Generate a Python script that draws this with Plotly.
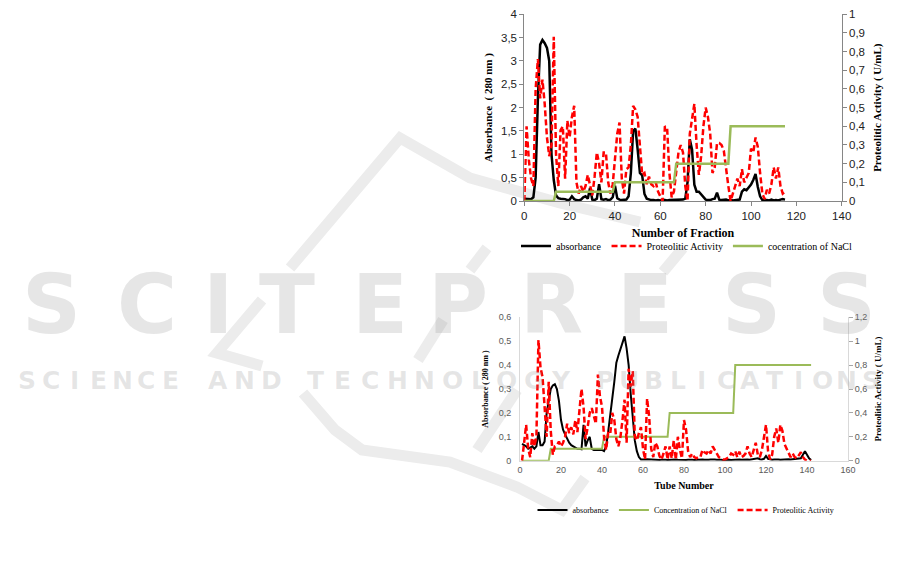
import plotly.graph_objects as go

W, H = 901, 565

# ---------------- Top chart data (Number of Fraction) ----------------
fraction = list(range(0, 116))
absorbance_top = [
    0.05, 0.05, 0.04, 0.04, 0.08, 0.5, 2.2, 3.35, 3.45, 3.38,
    3.28, 3.0, 1.0, 0.45, 0.12, 0.06, 0.05, 0.05, 0.04, 0.02,
    0.03, 0.10, 0.04, 0.02, 0.01, 0.03, 0.08, 0.10, 0.05, 0.28,
    0.03, 0.02, 0.05, 0.36, 0.04, 0.03, 0.04, 0.02, 0.03, 0.08,
    0.33, 0.06, 0.03, 0.02, 0.02, 0.03, 0.10, 0.6, 1.5, 1.55,
    1.1, 0.6, 0.55, 0.15, 0.05, 0.03, 0.02, 0.02, 0.01, 0.02,
    0.01, 0.03, 0.02, 0.01, 0.02, 0.02, 0.02, 0.03, 0.02, 0.02,
    0.03, 0.05, 0.4, 1.32, 1.1, 0.35, 0.2, 0.2, 0.15, 0.08,
    0.03, 0.02, 0.02, 0.04, 0.05, 0.18, 0.03, 0.02, 0.03, 0.03,
    0.01, 0.02, 0.01, 0.02, 0.02, 0.03, 0.2, 0.25, 0.23, 0.3,
    0.35, 0.45, 0.58, 0.3, 0.1, 0.02, 0.01, 0.02, 0.01, 0.03,
    0.01, 0.02, 0.01, 0.03, 0.04, 0.03,
]
activity_top = [
    0.0, 0.40, 0.22, 0.12, 0.08, 0.60, 0.76, 0.55, 0.65, 0.52,
    0.34, 0.24, 0.30, 0.88, 0.25, 0.08, 0.38, 0.40, 0.12, 0.43,
    0.34, 0.45, 0.51, 0.10, 0.04, 0.08, 0.05, 0.08, 0.14, 0.09,
    0.03, 0.13, 0.26, 0.20, 0.10, 0.26, 0.26, 0.10, 0.04, 0.09,
    0.22, 0.36, 0.42, 0.12, 0.04, 0.17, 0.18, 0.30, 0.51, 0.49,
    0.45, 0.28, 0.14, 0.15, 0.09, 0.13, 0.09, 0.08, 0.10, 0.05,
    0.02, 0.0, 0.40, 0.39, 0.15, 0.02, 0.05, 0.15, 0.26, 0.30,
    0.26, 0.08, 0.0, 0.36, 0.45, 0.52, 0.30, 0.14, 0.24, 0.40,
    0.50, 0.45, 0.36, 0.15, 0.18, 0.31, 0.31, 0.30, 0.27, 0.16,
    0.08, 0.0, 0.04, 0.09, 0.12, 0.08, 0.17, 0.10, 0.13, 0.15,
    0.28, 0.26, 0.34, 0.29, 0.15, 0.04, 0.01, 0.06, 0.04, 0.09,
    0.18, 0.12, 0.18, 0.08, 0.04, 0.05,
]
nacl_top_x = [0, 13, 14, 39, 40, 66, 67, 90, 91, 115]
nacl_top_y = [0, 0, 0.05, 0.05, 0.1, 0.1, 0.2, 0.2, 0.4, 0.4]

# ---------------- Bottom chart data (Tube Number) ----------------
tube = list(range(1, 143))
absorbance_bot = [
    0.07, 0.065, 0.06, 0.05, 0.055, 0.06, 0.05, 0.06, 0.12, 0.065,
    0.065, 0.08, 0.20, 0.26, 0.30, 0.315, 0.32, 0.30, 0.25, 0.17,
    0.13, 0.11, 0.09, 0.075, 0.065, 0.06, 0.055, 0.05, 0.05, 0.048,
    0.15, 0.06, 0.085, 0.10, 0.05, 0.045, 0.045, 0.045, 0.045, 0.045,
    0.04, 0.06, 0.12, 0.20, 0.26, 0.33, 0.41, 0.44, 0.47, 0.49,
    0.52, 0.47, 0.40, 0.28, 0.17, 0.085, 0.04, 0.015, 0.005, 0.004,
    0.005, 0.006, 0.005, 0.004, 0.006, 0.005, 0.004, 0.003, 0.004, 0.005,
    0.004, 0.003, 0.004, 0.003, 0.004, 0.005, 0.004, 0.003, 0.004, 0.004,
    0.003, 0.004, 0.005, 0.004, 0.003, 0.004, 0.005, 0.006, 0.005, 0.004,
    0.003, 0.004, 0.005, 0.006, 0.005, 0.004, 0.005, 0.004, 0.003, 0.004,
    0.005, 0.004, 0.003, 0.004, 0.005, 0.006, 0.005, 0.004, 0.005, 0.006,
    0.005, 0.004, 0.005, 0.006, 0.008, 0.01, 0.006, 0.005, 0.008, 0.02,
    0.008, 0.005, 0.004, 0.005, 0.006, 0.005, 0.004, 0.005, 0.006, 0.007,
    0.006, 0.005, 0.006, 0.007, 0.008, 0.008, 0.01, 0.025, 0.04, 0.025,
    0.01, 0.003,
]
activity_bot = [
    0.0, 0.15, 0.30, 0.10, 0.03, 0.23, 0.12, 0.20, 1.01, 0.78,
    0.70, 0.45, 0.20, 0.66, 0.25, 0.05, 0.12, 0.13, 0.16, 0.12,
    0.15, 0.20, 0.31, 0.23, 0.28, 0.22, 0.34, 0.24, 0.42, 0.60,
    0.45, 0.18, 0.28, 0.40, 0.44, 0.38, 0.31, 0.72, 0.54, 0.45,
    0.20, 0.09, 0.23, 0.22, 0.40, 0.34, 0.18, 0.12, 0.20, 0.34,
    0.51, 0.15, 0.77, 0.62, 0.75, 0.20, 0.17, 0.23, 0.28, 0.10,
    0.01, 0.52, 0.37, 0.10, 0.03, 0.15, 0.12, 0.04, 0.01, 0.06,
    0.12, 0.01, 0.12, 0.02, 0.17, 0.01, 0.20, 0.09, 0.02, 0.34,
    0.26, 0.08, 0.03, 0.06, 0.03, 0.02, 0.03, 0.03, 0.09, 0.07,
    0.06, 0.09, 0.06, 0.12, 0.09, 0.05, 0.03, 0.02, 0.01, 0.01,
    0.02, 0.03, 0.06, 0.05, 0.08, 0.03, 0.075, 0.03, 0.04, 0.06,
    0.12, 0.06, 0.03, 0.10, 0.15, 0.05, 0.03, 0.09, 0.20, 0.30,
    0.08, 0.01, 0.05, 0.20, 0.27, 0.15, 0.30, 0.25, 0.14, 0.10,
    0.06, 0.03, 0.06, 0.03, 0.02, 0.05, 0.07, 0.03, 0.01, 0.0,
    0.0, 0.0,
]
nacl_bot_x = [1, 14, 15, 40, 41, 72, 73, 104, 105, 142]
nacl_bot_y = [0, 0, 0.1, 0.1, 0.2, 0.2, 0.4, 0.4, 0.8, 0.8]

# ---------------- Tick labels ----------------
top_x_ticks = [0, 20, 40, 60, 80, 100, 120, 140]
top_y_vals = [0, 0.5, 1, 1.5, 2, 2.5, 3, 3.5, 4]
top_y_text = ["0", "0,5", "1", "1,5", "2", "2,5", "3", "3,5", "4"]
top_y2_vals = [0, 0.1, 0.2, 0.3, 0.4, 0.5, 0.6, 0.7, 0.8, 0.9, 1]
top_y2_text = ["0", "0,1", "0,2", "0,3", "0,4", "0,5", "0,6", "0,7", "0,8", "0,9", "1"]
bot_x_ticks = [0, 20, 40, 60, 80, 100, 120, 140, 160]
bot_y_vals = [0, 0.1, 0.2, 0.3, 0.4, 0.5, 0.6]
bot_y_text = ["0", "0,1", "0,2", "0,3", "0,4", "0,5", "0,6"]
bot_y2_vals = [0, 0.2, 0.4, 0.6, 0.8, 1, 1.2]
bot_y2_text = ["0", "0,2", "0,4", "0,6", "0,8", "1", "1,2"]

BLACK = "#000000"
RED = "#ff0000"
GREEN = "#9bbb59"
SERIF = "Liberation Serif"
SANS = "Liberation Sans"
DASH = "6px,3px"

def px(x):
    return x / W

def py(y):
    return 1 - y / H

fig = go.Figure()

# top chart traces
fig.add_trace(go.Scatter(x=fraction, y=absorbance_top, name="absorbance", mode="lines",
                         line=dict(color=BLACK, width=2.5), xaxis="x", yaxis="y", legend="legend"))
fig.add_trace(go.Scatter(x=fraction, y=activity_top, name="Proteolitic Activity", mode="lines",
                         line=dict(color=RED, width=2.5, dash=DASH), xaxis="x", yaxis="y2", legend="legend"))
fig.add_trace(go.Scatter(x=nacl_top_x, y=nacl_top_y, name="cocentration of NaCl", mode="lines",
                         line=dict(color=GREEN, width=2.5), xaxis="x", yaxis="y2", legend="legend"))

# bottom chart traces
fig.add_trace(go.Scatter(x=tube, y=absorbance_bot, name="absorbance", mode="lines",
                         line=dict(color=BLACK, width=2), xaxis="x2", yaxis="y3", legend="legend2"))
fig.add_trace(go.Scatter(x=nacl_bot_x, y=nacl_bot_y, name="Concentration of NaCl", mode="lines",
                         line=dict(color=GREEN, width=2), xaxis="x2", yaxis="y4", legend="legend2"))
fig.add_trace(go.Scatter(x=tube, y=activity_bot, name="Proteolitic Activity", mode="lines",
                         line=dict(color=RED, width=2.5, dash=DASH), xaxis="x2", yaxis="y4", legend="legend2"))

top_dx = [px(524.3), px(841.7)]
top_dy = [py(201), py(14.3)]
bot_dx = [px(520), px(848)]
bot_dy = [py(460.7), py(317.3)]

axis_common = dict(showgrid=False, zeroline=False, showline=True, ticks="outside", ticklen=4)

fig.update_layout(
    width=W, height=H,
    margin=dict(l=0, r=0, t=0, b=0, pad=0, autoexpand=False),
    paper_bgcolor="white", plot_bgcolor="rgba(0,0,0,0)",
    xaxis=dict(domain=top_dx, anchor="y", range=[0, 140], tickvals=top_x_ticks,
               linecolor="#868686", tickcolor="#868686",
               tickfont=dict(family=SANS, size=11.5, color="#222"),
               title=dict(text="<b>Number of Fraction</b>", font=dict(family=SERIF, size=12, color="#000"), standoff=7),
               **axis_common),
    yaxis=dict(domain=top_dy, anchor="x", range=[0, 4], tickvals=top_y_vals, ticktext=top_y_text,
               linecolor="#868686", tickcolor="#868686",
               tickfont=dict(family=SANS, size=11.5, color="#222"),
               title=dict(text="<b>Absorbance\u00a0 ( 280 nm )</b>", font=dict(family=SERIF, size=11, color="#000"), standoff=6),
               **axis_common),
    yaxis2=dict(domain=top_dy, anchor="x", overlaying="y", side="right", range=[0, 1],
                tickvals=top_y2_vals, ticktext=top_y2_text,
                linecolor="#868686", tickcolor="#868686",
                tickfont=dict(family=SANS, size=11.5, color="#222"),
                title=dict(text="<b>Proteolitic Activity ( U/mL)</b>", font=dict(family=SERIF, size=11, color="#000"), standoff=8),
                **axis_common),
    xaxis2=dict(domain=bot_dx, anchor="y3", range=[0, 160], tickvals=bot_x_ticks,
                linecolor="#d9d9d9", tickcolor="#d9d9d9",
                tickfont=dict(family=SANS, size=9, color="#595959"),
                title=dict(text="<b>Tube Number</b>", font=dict(family=SERIF, size=10, color="#000"), standoff=8),
                showgrid=False, zeroline=False, showline=True, ticks=""),
    yaxis3=dict(domain=bot_dy, anchor="x2", range=[0, 0.6], tickvals=bot_y_vals, ticktext=bot_y_text,
                linecolor="#d9d9d9", tickfont=dict(family=SANS, size=9, color="#595959"),
                title=dict(text="<b>Absorbance ( 280 nm )</b>", font=dict(family=SERIF, size=8, color="#000"), standoff=8),
                showgrid=False, zeroline=False, showline=True, ticks="", ticklabelstandoff=6),
    yaxis4=dict(domain=bot_dy, anchor="x2", overlaying="y3", side="right", range=[0, 1.2],
                tickvals=bot_y2_vals, ticktext=bot_y2_text,
                linecolor="#d9d9d9", tickcolor="#a6a6a6",
                tickfont=dict(family=SANS, size=9, color="#595959"),
                title=dict(text="<b>Proteolitic Activity ( U/mL)</b>", font=dict(family=SERIF, size=9, color="#000"), standoff=8),
                showgrid=False, zeroline=False, showline=True, ticks="outside", ticklen=4),
    legend=dict(orientation="h", x=px(687), xanchor="center", y=py(246), yanchor="middle",
                font=dict(family=SERIF, size=10, color="#000"), bgcolor="rgba(0,0,0,0)",
                traceorder="normal", itemwidth=30),
    legend2=dict(orientation="h", x=px(686), xanchor="center", y=py(510), yanchor="middle",
                 font=dict(family=SERIF, size=8, color="#000"), bgcolor="rgba(0,0,0,0)",
                 traceorder="normal", itemwidth=30),
    showlegend=True,
)

# ---------------- Watermark ----------------
WM = "rgba(140,140,140,0.22)"
big_letters = ["S", "C", "I", "T", "E", "P", "R", "E", "S", "S"]
big_centers = [51, 147, 218, 287, 380, 458, 551, 645, 751, 846]
annotations = []
for ch, cx in zip(big_letters, big_centers):
    annotations.append(dict(text=f"<b>{ch}</b>", x=px(cx), y=py(304), xref="paper", yref="paper",
                            xanchor="center", yanchor="middle", showarrow=False,
                            font=dict(family="DejaVu Sans", size=82, color=WM)))
small_words = ["SCIENCE", "AND", "TECHNOLOGY", "PUBLICATIONS"]
small_spans = [(15, 182), (205, 285), (302, 575), (593, 883)]
for word, (a, b) in zip(small_words, small_spans):
    step = (b - a) / len(word)
    for i, ch in enumerate(word):
        annotations.append(dict(text=f"<b>{ch}</b>", x=px(a + (i + 0.5) * step), y=py(380), xref="paper", yref="paper",
                                xanchor="center", yanchor="middle", showarrow=False,
                                font=dict(family="DejaVu Sans", size=25, color=WM)))
fig.update_layout(annotations=annotations)

def path(points):
    d = "M " + " L ".join(f"{px(x):.4f},{py(y):.4f}" for x, y in points)
    return d

LOGO = "#ececec"
logo_paths = [
    [(290, 268), (400, 138), (470, 178), (560, 203), (640, 222)],
    [(262, 300), (217, 353), (262, 366)],
    [(443, 320), (418, 360)],
    [(487, 248), (470, 270)],
    [(683, 248), (663, 272)],
    [(517, 390), (477, 450)],
    [(303, 393), (335, 430), (362, 450), (450, 462), (517, 487), (562, 510), (585, 478)],
]
shapes = []
for pts in logo_paths:
    shapes.append(dict(type="path", path=path(pts), xref="paper", yref="paper",
                       line=dict(color=LOGO, width=11), layer="below"))
fig.update_layout(shapes=shapes)

fig.write_html("out.html", config={"displayModeBar": False},
               post_script="document.body.style.margin='0px';document.body.style.overflow='hidden';")
